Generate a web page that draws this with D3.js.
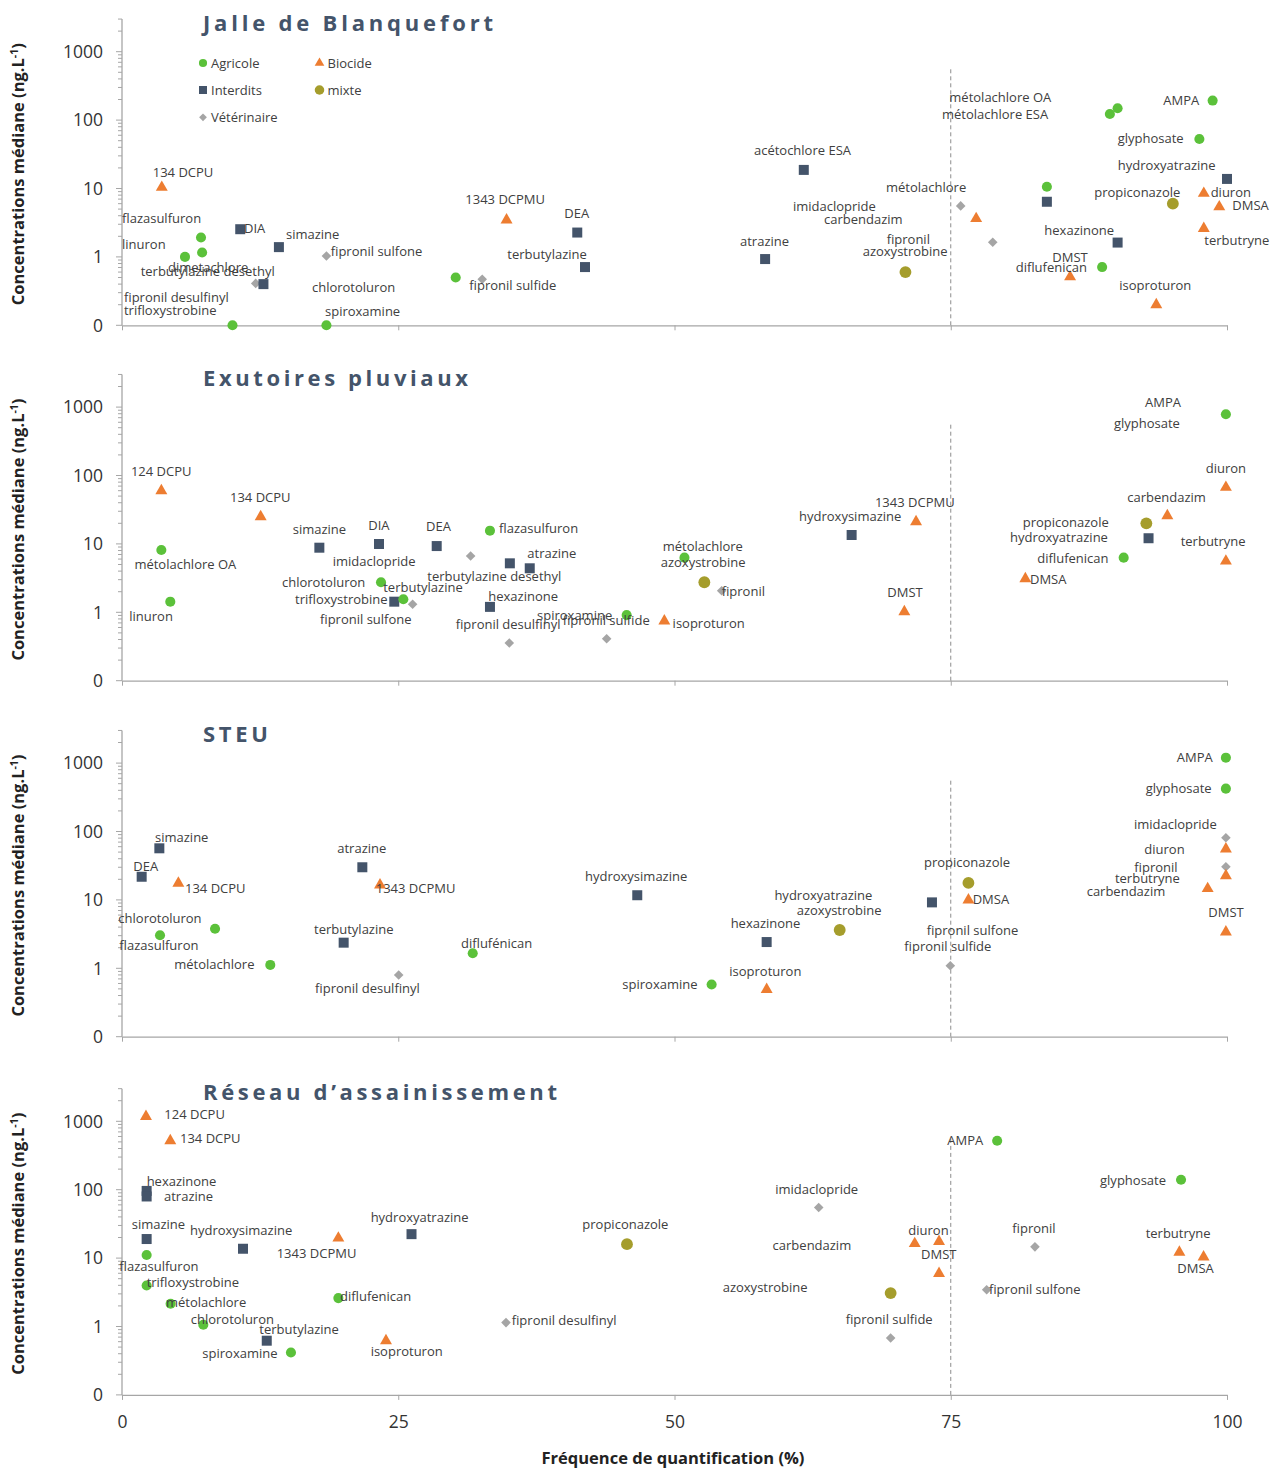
<!DOCTYPE html>
<html>
<head>
<meta charset="utf-8">
<script src="https://cdn.jsdelivr.net/npm/d3@7"></script>
<style>
  body { margin: 0; background: #fff; }
  text { font-family: "Open Sans", sans-serif; }
</style>
</head>
<body>
<div id="chart"></div>
<script>
// categories of substances (legend)
var categories = ["Agricole", "Biocide", "Interdits", "mixte", "Vétérinaire"];
var catCodes = ["A", "B", "I", "M", "V"];

var panelTitles = ["Jalle de Blanquefort", "Exutoires pluviaux", "STEU", "Réseau d’assainissement"];

// y tick values (0 = 0.1 on the log axis)
var yTickValues = [0.1, 1, 10, 100, 1000];
var xTickValues = [0, 25, 50, 75, 100];

// points: [category, frequence %, concentration ng/L]
var jallePoints = [
  ["B",3.6,10.4],["A",7.15,1.92],["A",5.7,1.0],["A",7.25,1.16],["I",10.7,2.54],["I",14.2,1.39],
  ["V",18.5,1.03],["V",12.1,0.41],["I",12.8,0.40],["A",10.0,0.1],["A",18.5,0.1],["B",34.8,3.47],
  ["A",30.2,0.50],["V",32.6,0.47],["I",41.2,2.27],["I",41.9,0.71],["I",61.7,18.7],["I",58.2,0.93],
  ["M",70.9,0.60],["V",75.9,5.57],["B",77.3,3.63],["V",78.8,1.64],["A",83.7,10.6],["I",83.7,6.4],
  ["I",90.1,1.62],["A",89.4,123],["A",90.1,149],["A",98.7,193],["A",97.5,53],["I",100,13.8],
  ["B",97.9,8.5],["B",99.3,5.4],["M",95.1,6.0],["B",97.9,2.6],["A",88.7,0.71],["B",85.8,0.51],
  ["B",93.6,0.20]
];
var exutoiresPoints = [
  ["B",3.56,60],["B",12.55,25],["A",3.56,8.15],["A",4.37,1.43],["I",17.86,8.8],["I",23.26,9.97],
  ["I",28.48,9.3],["A",23.44,2.75],["I",24.64,1.43],["A",25.46,1.55],["V",26.3,1.31],["V",31.55,6.65],
  ["A",33.3,15.6],["I",35.1,5.2],["I",36.9,4.4],["I",33.3,1.2],["V",35.05,0.356],["V",43.86,0.41],
  ["A",45.67,0.91],["B",49.08,0.746],["A",50.9,6.3],["M",52.7,2.75],["V",54.27,2.07],["I",66.03,13.5],
  ["B",71.86,21.1],["B",70.8,1.02],["A",99.9,785],["B",99.9,67],["B",94.6,25.8],["M",92.7,20],
  ["I",92.9,12.1],["A",90.65,6.3],["B",81.75,3.1],["B",99.9,5.6]
];
var steuPoints = [
  ["I",3.38,56.8],["I",1.78,21.8],["B",5.1,17.5],["A",8.42,3.79],["A",3.44,3.04],["A",13.42,1.12],
  ["I",21.75,30],["B",23.35,16.5],["I",20.06,2.37],["V",25.04,0.80],["A",31.74,1.66],["I",46.63,11.7],
  ["I",58.34,2.42],["A",53.36,0.58],["B",58.34,0.49],["M",64.95,3.63],["I",73.3,9.2],["M",76.6,17.7],
  ["B",76.6,9.97],["V",74.96,1.09],["A",99.9,1200],["A",99.9,423],["V",99.9,81],["B",99.9,55.5],
  ["V",99.9,30.6],["B",99.9,22.6],["B",98.25,14.6],["B",99.9,3.4]
];
var reseauPoints = [
  ["B",2.17,1175],["B",4.37,519],["I",2.23,96],["I",2.23,79.6],["I",2.23,19],["A",2.23,11.1],
  ["I",10.95,13.7],["B",19.58,19.6],["I",26.2,22.4],["A",2.23,3.98],["A",4.4,2.15],["A",7.36,1.06],
  ["I",13.1,0.62],["A",15.29,0.417],["A",19.58,2.6],["B",23.89,0.62],["V",34.75,1.14],["M",45.7,16],
  ["V",63.05,55],["A",79.2,519],["A",95.84,140],["B",71.74,16.3],["B",73.94,17.5],["B",73.94,5.96],
  ["M",69.56,3.08],["V",69.56,0.68],["V",82.62,14.6],["V",78.25,3.44],["B",95.69,12.2],["B",97.88,10.4]
];

// data labels: [text, frequence % (left edge), concentration (middle of text)]
var jalleLabels = [
  ["134 DCPU",2.78,17.3],["flazasulfuron",0,3.63],["linuron",0,1.5],["dimetachlore",4.16,0.71],
  ["terbutylazine desethyl",1.69,0.62],["DIA",11.04,2.57],["simazine",14.84,2.1],["fipronil sulfone",18.89,1.2],
  ["chlorotoluron",17.19,0.352],["fipronil desulfinyl",0.18,0.258],["trifloxystrobine",0.18,0.164],
  ["spiroxamine",18.37,0.161],["1343 DCPMU",31.07,6.81],["DEA",40.03,4.35],["terbutylazine",34.87,1.07],
  ["fipronil sulfide",31.43,0.377],["acétochlore ESA",57.19,35.5],["atrazine",55.93,1.71],
  ["imidaclopride",60.72,5.38],["carbendazim",63.53,3.47],["fipronil",69.2,1.81],["azoxystrobine",67.03,1.2],
  ["métolachlore",69.14,10.4],["métolachlore OA",74.87,216],["métolachlore ESA",74.21,122],["AMPA",94.24,193],
  ["glyphosate",90.11,53.1],["hydroxyatrazine",90.11,21.6],["propiconazole",87.99,8.71],["diuron",98.52,8.71],
  ["DMSA",100.48,5.57],["hexazinone",83.47,2.42],["terbutryne",97.95,1.73],["DMST",84.19,0.99],
  ["diflufenican",80.88,0.707],["isoproturon",90.25,0.38]
];
var exutoiresLabels = [
  ["124 DCPU",0.81,114],["134 DCPU",9.77,48],["simazine",15.45,16.3],["DIA",22.29,18.5],["DEA",27.51,17.8],
  ["métolachlore OA",1.12,5.08],["imidaclopride",19.07,5.62],["chlorotoluron",14.48,2.71],["terbutylazine",23.64,2.29],
  ["trifloxystrobine",15.66,1.55],["fipronil sulfone",17.92,0.79],["linuron",0.66,0.86],["flazasulfuron",34.12,16.9],
  ["atrazine",36.68,7.29],["terbutylazine desethyl",27.63,3.39],["hexazinone",33.15,1.73],
  ["fipronil desulfinyl",30.2,0.67],["spiroxamine",37.56,0.91],["fipronil sulfide",39.88,0.77],
  ["isoproturon",49.83,0.69],["métolachlore",48.93,9.1],["azoxystrobine",48.75,5.38],["fipronil",54.27,2.0],
  ["hydroxysimazine",61.27,25],["1343 DCPMU",68.14,40],["DMST",69.26,1.94],["AMPA",92.58,1175],
  ["glyphosate",89.77,580],["diuron",98.07,127],["carbendazim",90.98,48.5],["propiconazole",81.51,20.9],
  ["hydroxyatrazine",80.36,12.3],["diflufenican",82.83,6.22],["DMSA",82.17,3.04],["terbutryne",95.81,10.7]
];
var steuLabels = [
  ["simazine",2.99,82],["DEA",1.02,30.6],["134 DCPU",5.7,14.8],["chlorotoluron",-0.33,5.38],
  ["flazasulfuron",-0.24,2.19],["métolachlore",4.73,1.12],["atrazine",19.48,56.8],["1343 DCPMU",22.96,14.8],
  ["terbutylazine",17.38,3.76],["fipronil desulfinyl",17.47,0.51],["diflufénican",30.68,2.32],
  ["hydroxysimazine",41.9,21.8],["hexazinone",55.08,4.55],["isoproturon",54.96,0.91],["spiroxamine",45.28,0.58],
  ["hydroxyatrazine",59.04,11.8],["azoxystrobine",61.06,6.95],["propiconazole",72.58,35],["DMSA",76.98,10.2],
  ["fipronil sulfone",72.82,3.55],["fipronil sulfide",70.8,2.07],["AMPA",95.45,1200],["glyphosate",92.64,423],
  ["imidaclopride",91.58,127],["diuron",92.52,55.5],["fipronil",91.61,29.6],["terbutryne",89.86,20.7],
  ["carbendazim",87.3,13.5],["DMST",98.31,6.5]
];
var reseauLabels = [
  ["124 DCPU",3.83,1274],["134 DCPU",5.25,555],["hexazinone",2.23,132],["atrazine",3.8,79.6],
  ["simazine",0.88,31.4],["hydroxysimazine",6.15,25.1],["1343 DCPMU",14.0,11.6],["hydroxyatrazine",22.5,39.2],
  ["flazasulfuron",-0.24,7.54],["trifloxystrobine",2.23,4.46],["métolachlore",3.98,2.24],["chlorotoluron",6.22,1.25],
  ["terbutylazine",12.43,0.9],["spiroxamine",7.27,0.41],["diflufenican",19.73,2.75],["isoproturon",22.5,0.43],
  ["propiconazole",41.66,31.4],["fipronil desulfinyl",35.27,1.21],["imidaclopride",59.12,99.6],
  ["carbendazim",58.88,15.1],["azoxystrobine",54.36,3.72],["AMPA",74.69,519],["glyphosate",88.51,135],
  ["diuron",71.16,25.3],["DMST",72.31,11.2],["fipronil",80.57,26.8],["fipronil sulfone",78.46,3.44],
  ["fipronil sulfide",65.49,1.28],["terbutryne",92.64,23.2],["DMSA",95.5,6.98]
];

var panelPoints = [jallePoints, exutoiresPoints, steuPoints, reseauPoints];
var panelLabels = [jalleLabels, exutoiresLabels, steuLabels, reseauLabels];

// ---- layout ----
var width = 1282, height = 1470;
var panelBottoms = [325.3, 680.7, 1036.7, 1394.9];
var titleWidths = [290, 265, 65, 354];
var decade = 68.4;

var colors = { A: "#5bc13a", B: "#ed7d31", I: "#44546a", M: "#a59d2c", V: "#a5a5a5" };
var shapes = { A: d3.symbolCircle, B: d3.symbolTriangle, I: d3.symbolSquare, M: d3.symbolCircle, V: d3.symbolSquare };
var sizes  = { A: 80, B: 62, I: 100, M: 110, V: 46 };

var svg = d3.select("#chart").append("svg")
  .attr("width", width)
  .attr("height", height);

var x = d3.scaleLinear().domain([0, 100]).range([122, 1227]);

function marker(g, code, scale) {
  g.append("path")
    .attr("d", d3.symbol().type(shapes[code]).size(sizes[code] * (scale || 1)))
    .attr("transform", code == "V" ? "rotate(45)" : null)
    .attr("fill", colors[code]);
}

panelBottoms.forEach(function (bottom, p) {
  var y = d3.scaleLog().domain([0.1, 3000])
    .range([bottom, bottom - decade * Math.log10(30000)]);
  var g = svg.append("g");

  // dashed line at 75 %
  g.append("line")
    .attr("x1", x(75)).attr("x2", x(75))
    .attr("y1", y(0.1)).attr("y2", y(600))
    .attr("stroke", "#8c8c8c")
    .attr("stroke-width", 1)
    .attr("stroke-dasharray", "4,3");

  // y axis with minor log ticks
  var minor = [];
  for (var e = -1; e <= 3; e++) {
    for (var m = 1; m <= 9; m++) {
      var v = m * Math.pow(10, e);
      if (v <= 3000 && m != 1) minor.push(v);
    }
  }
  var yAxis = g.append("g")
    .attr("transform", "translate(" + x(0) + ",0)");
  yAxis.append("line")
    .attr("y1", y(0.1)).attr("y2", y(3000))
    .attr("stroke", "#a6a6a6").attr("stroke-width", 1.3);
  yAxis.selectAll(".minor").data(minor).enter().append("line")
    .attr("x1", -4).attr("x2", 0)
    .attr("y1", function (d) { return y(d); }).attr("y2", function (d) { return y(d); })
    .attr("stroke", "#a6a6a6");
  yAxis.selectAll(".major").data(yTickValues).enter().append("line")
    .attr("x1", -6).attr("x2", 0)
    .attr("y1", function (d) { return y(d); }).attr("y2", function (d) { return y(d); })
    .attr("stroke", "#a6a6a6");
  yAxis.selectAll(".tlab").data(yTickValues).enter().append("text")
    .attr("x", -19)
    .attr("y", function (d) { return y(d); })
    .attr("dy", "0.36em")
    .attr("text-anchor", "end")
    .attr("font-size", 17.5)
    .attr("fill", "#333")
    .text(function (d) { return d < 1 ? "0" : d3.format("d")(d); });

  // x axis
  var xAxis = g.append("g")
    .attr("transform", "translate(0," + y(0.1) + ")")
    .call(d3.axisBottom(x).tickValues(xTickValues).tickSize(5).tickSizeOuter(0)
      .tickFormat(p == 3 ? d3.format("d") : function () { return ""; }));
  xAxis.select(".domain").attr("stroke", "#a6a6a6").attr("stroke-width", 1.3);
  xAxis.selectAll(".tick line").attr("stroke", "#a6a6a6");
  xAxis.selectAll(".tick text")
    .attr("font-family", "Open Sans, sans-serif")
    .attr("font-size", 17.5).attr("fill", "#333").attr("dy", "1.45em");

  // y axis title
  var ty = g.append("text")
    .attr("transform", "translate(24," + ((y(0.1) + y(3000)) / 2 + 2) + ") rotate(-90)")
    .attr("text-anchor", "middle")
    .attr("font-size", 16.5)
    .attr("font-weight", 700)
    .attr("fill", "#222");
  ty.append("tspan").text("Concentrations médiane (ng.L");
  ty.append("tspan").attr("font-size", 10.5).attr("dy", -6.5).text("-1");
  ty.append("tspan").attr("dy", 6.5).text(")");

  // panel title
  g.append("text")
    .attr("x", 203)
    .attr("y", y(3000) + 11.5)
    .attr("font-size", 22)
    .attr("font-weight", 700)
    .attr("fill", "#44546a")
    .attr("textLength", titleWidths[p])
    .attr("lengthAdjust", "spacing")
    .text(panelTitles[p]);

  // points
  g.selectAll(".pt").data(panelPoints[p]).enter().append("g")
    .attr("transform", function (d) { return "translate(" + x(d[1]) + "," + y(d[2]) + ")"; })
    .each(function (d) { marker(d3.select(this), d[0]); });

  // data labels
  g.selectAll(".lbl").data(panelLabels[p]).enter().append("text")
    .attr("x", function (d) { return x(d[1]); })
    .attr("y", function (d) { return y(d[2]); })
    .attr("dy", "0.35em")
    .attr("font-size", 13)
    .attr("fill", "#404040")
    .text(function (d) { return d[0]; });

  // legend in first panel
  if (p == 0) {
    var legPos = [[203, 63], [319.5, 63], [203, 90], [319.5, 90], [203, 117.3]];
    categories.forEach(function (c, i) {
      var lg = g.append("g").attr("transform", "translate(" + legPos[i][0] + "," + legPos[i][1] + ")");
      marker(lg, catCodes[i], 0.65);
      lg.append("text").attr("x", 8).attr("dy", "0.35em")
        .attr("font-size", 13).attr("fill", "#404040").text(c);
    });
  }
});

// x axis title
svg.append("text")
  .attr("x", 673)
  .attr("y", 1458)
  .attr("dy", "0.35em")
  .attr("text-anchor", "middle")
  .attr("font-size", 16.5)
  .attr("font-weight", 700)
  .attr("fill", "#222")
  .text("Fréquence de quantification (%)");
</script>
</body>
</html>
